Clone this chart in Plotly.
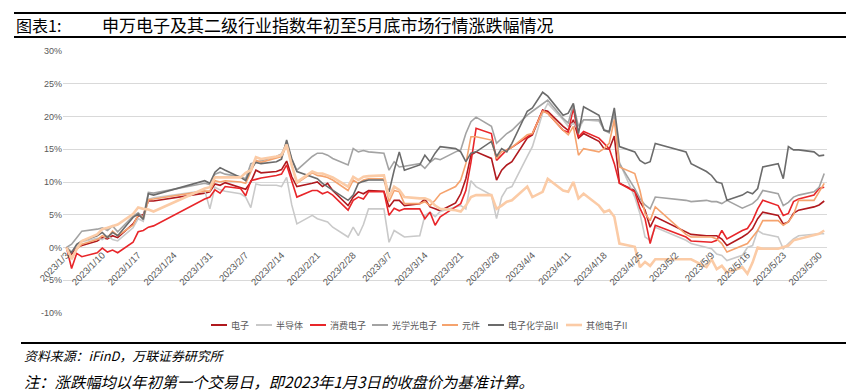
import plotly.graph_objects as go

# ---------------- data ----------------
dates = [
    # Jan
    "2023-01-03","2023-01-04","2023-01-05","2023-01-06","2023-01-09","2023-01-10","2023-01-11","2023-01-12",
    "2023-01-13","2023-01-16","2023-01-17","2023-01-18","2023-01-19","2023-01-20","2023-01-30","2023-01-31",
    # Feb
    "2023-02-01","2023-02-02","2023-02-03","2023-02-06","2023-02-07","2023-02-08","2023-02-09","2023-02-10",
    "2023-02-13","2023-02-14","2023-02-15","2023-02-16","2023-02-17","2023-02-20","2023-02-21","2023-02-22",
    "2023-02-23","2023-02-24","2023-02-27","2023-02-28",
    # Mar
    "2023-03-01","2023-03-02","2023-03-03","2023-03-06","2023-03-07","2023-03-08","2023-03-09","2023-03-10",
    "2023-03-13","2023-03-14","2023-03-15","2023-03-16","2023-03-17","2023-03-20","2023-03-21","2023-03-22",
    "2023-03-23","2023-03-24","2023-03-27","2023-03-28","2023-03-29","2023-03-30","2023-03-31",
    # Apr
    "2023-04-03","2023-04-04","2023-04-06","2023-04-07","2023-04-10","2023-04-11","2023-04-12","2023-04-13",
    "2023-04-14","2023-04-17","2023-04-18","2023-04-19","2023-04-20","2023-04-21","2023-04-24","2023-04-25",
    "2023-04-26","2023-04-27","2023-04-28",
    # May
    "2023-05-04","2023-05-05","2023-05-08","2023-05-09","2023-05-10","2023-05-11","2023-05-12","2023-05-15",
    "2023-05-16","2023-05-17","2023-05-18","2023-05-19","2023-05-22","2023-05-23","2023-05-24","2023-05-25",
    "2023-05-26","2023-05-29","2023-05-30","2023-05-31",
]

dianzi = [  # 电子
    0, -1.0, 0.0, 0.3, 1.0, 1.5, 1.3, 1.8, 1.5, 3.6, 4.8, 5.0, 7.1, 7.1, 8.3, 8.5,
    9.7, 9.5, 9.9, 9.2, 8.9, 10.0, 11.8, 11.4, 11.6, 11.9, 13.2, 10.8, 9.3, 9.8, 10.0, 9.3, 9.8, 8.7, 6.4, 7.7,
    8.5, 8.2, 8.7, 8.6, 6.2, 7.2, 7.2, 6.4, 6.7, 7.4, 6.2, 5.9, 5.6, 6.8, 8.2, 10.5, 14.1, 14.6, 13.6, 10.3, 11.8, 12.6, 13.1,
    16.7, 17.2, 21.0, 20.8, 18.5, 17.9, 19.5, 16.7, 17.4, 16.2, 15.1, 15.0, 17.0, 9.8, 8.7, 7.0, 5.7, 3.1, 4.7,
    2.3, 2.0, 1.8, 1.8, 1.8, 1.3, 0.3, 1.6, 2.1, 2.9, 4.4, 5.4, 4.9, 3.6, 3.9, 5.2, 5.7, 6.2, 6.5, 7.1,
]
bandaoti = [  # 半导体
    0, -0.6, 0.3, 0.9, 1.4, 1.2, 1.8, 1.2, 1.0, 3.0, 4.4, 4.0, 7.4, 7.6, 8.7, 5.9,
    9.2, 8.8, 8.6, 8.2, 7.7, 6.1, 9.7, 9.5, 9.5, 9.3, 10.7, 6.5, 3.6, 4.9, 4.4, 4.2, 3.9, 3.1, 1.6, 3.1,
    1.8, 3.5, 5.9, 5.9, 0.8, 2.6, 2.1, 1.6, 1.8, 4.9, 5.4, 4.7, 5.5, 6.2, 6.4, 5.9, 10.2, 9.3, 8.0, 4.4, 7.7, 9.0, 9.3,
    13.9, 15.4, 20.5, 22.0, 19.5, 18.5, 19.0, 17.9, 19.5, 19.3, 18.0, 17.7, 20.5, 13.0, 7.7, 5.2, 1.6, 1.1, 3.1,
    1.1, 0.6, 0.0, -0.2, -1.0, -1.2, -2.0, -1.2, 0.0, 0.3, 2.6, 2.1, 1.6, -0.2, 0.6, 1.3, 1.8, 2.1, 2.1, 2.1,
]
xiaofei = [  # 消费电子
    0, -3.2, -0.9, -1.4, -0.8, -0.1, -0.7, -0.4, -0.8, 0.8, 2.4, 2.6, 3.1, 3.3, 7.4, 7.7,
    8.8, 8.3, 9.3, 9.0, 7.9, 10.2, 10.4, 10.6, 11.0, 11.2, 12.6, 10.0, 7.7, 8.7, 8.7, 8.2, 8.5, 8.0, 5.7, 7.2,
    7.7, 7.4, 8.5, 8.5, 4.9, 6.0, 5.6, 5.9, 5.9, 4.4, 5.4, 3.4, 4.7, 6.2, 6.7, 8.7, 13.0, 18.2, 17.4, 13.3, 14.1, 14.9, 15.3,
    16.9, 17.4, 20.9, 20.5, 17.9, 17.6, 21.3, 16.9, 17.7, 16.7, 15.9, 15.1, 12.8, 9.8, 8.5, 6.0, 4.4, 0.6, 3.4,
    1.6, 1.0, 0.8, 0.8, 1.1, 2.6, 1.3, 2.6, 2.9, 4.1, 5.9, 7.2, 6.4, 4.9, 5.2, 7.0, 7.4, 8.0, 9.0, 9.2,
]
guangxue = [  # 光学光电子
    0, 0.5, 1.5, 2.5, 2.8, 3.0, 2.6, 3.3, 2.4, 4.8, 5.3, 4.6, 8.4, 8.3, 9.8, 9.6,
    11.2, 11.5, 11.2, 10.8, 10.5, 12.8, 13.0, 13.2, 13.9, 14.3, 15.9, 13.5, 11.8, 13.9, 14.4, 14.4, 14.1, 13.6, 12.6, 15.1,
    14.6, 14.8, 14.6, 14.4, 11.8, 13.1, 12.3, 12.4, 12.8, 12.1, 13.0, 13.6, 13.4, 14.6, 14.9, 17.4, 19.2, 19.9, 18.5, 15.9, 16.7, 17.4, 17.9,
    20.2, 20.8, 22.0, 22.5, 19.7, 19.0, 21.8, 18.5, 19.5, 19.5, 17.9, 17.5, 20.5, 12.8, 9.0, 7.5, 6.5, 5.9, 7.7,
    7.2, 7.0, 7.2, 7.0, 7.0, 6.7, 7.2, 6.0, 6.4, 6.7, 7.4, 8.7, 8.2, 6.4, 6.9, 7.7, 8.0, 8.5, 9.2, 11.3,
]
yuanjian = [  # 元件
    0, -1.5, -0.3, 0.5, 1.2, 1.8, 1.5, 2.5, 1.8, 3.4, 5.0, 4.5, 7.3, 7.4, 8.6, 8.6,
    10.2, 10.0, 10.2, 10.0, 9.8, 11.5, 13.3, 13.0, 13.6, 13.9, 15.6, 12.5, 9.8, 11.4, 11.0, 10.9, 10.7, 10.3, 8.7, 10.3,
    9.8, 10.3, 10.5, 10.5, 7.0, 8.7, 8.5, 6.7, 6.7, 7.0, 6.4, 7.2, 8.2, 9.3, 10.3, 12.8, 16.9, 16.9, 16.4, 13.6, 14.6, 14.9, 15.3,
    17.2, 17.4, 20.8, 20.5, 17.9, 17.2, 18.5, 14.1, 15.1, 14.6, 15.1, 15.9, 19.5, 12.3, 11.3, 8.7, 5.2, 4.1, 6.2,
    2.0, 1.6, 1.6, 1.6, 1.3, 0.6, -0.7, 0.3, 0.6, 1.6, 2.6, 4.1, 4.1, 3.4, 3.9, 5.0, 7.2, 7.2, 8.5, 9.8,
]
huaxue = [  # 电子化学品II
    0, -0.8, 0.5, 1.0, 1.8, 2.3, 1.5, 2.3, 1.8, 4.6, 5.1, 4.3, 8.2, 8.0, 10.2, 9.8,
    11.5, 12.2, 11.8, 10.7, 10.2, 12.0, 13.0, 12.8, 13.1, 13.5, 16.4, 13.5, 11.6, 10.8, 10.5, 9.8, 9.3, 8.7, 7.2, 8.0,
    9.8, 10.1, 10.3, 10.3, 8.5, 11.8, 14.6, 11.8, 12.6, 14.1, 13.1, 14.4, 15.4, 15.1, 14.6, 13.1, 14.4, 14.6, 16.2, 13.9, 15.1, 14.6, 15.9,
    20.8, 21.3, 23.7, 23.1, 20.2, 20.5, 22.0, 17.4, 21.5, 20.2, 17.9, 17.7, 21.3, 15.4, 14.6, 13.3, 12.8, 13.1, 15.9,
    14.6, 12.8, 11.6, 11.0, 10.0, 9.8, 7.2, 8.0, 8.5, 8.2, 9.0, 12.3, 12.8, 10.5, 15.4, 14.9, 14.9, 14.6, 14.0, 14.1,
]
qita = [  # 其他电子II
    0, -1.8, -0.2, 1.0, 2.0, 2.8, 3.0, 3.3, 3.5, 5.1, 6.1, 5.9, 5.8, 5.5, 9.0, 9.2,
    10.7, 10.7, 10.7, 10.7, 11.4, 11.8, 13.8, 13.5, 13.9, 14.1, 15.7, 12.5, 10.0, 11.6, 11.3, 11.3, 11.0, 10.7, 9.3, 10.8,
    10.3, 10.8, 10.9, 11.0, 7.7, 9.3, 8.8, 7.7, 7.5, 7.5, 7.2, 6.4, 5.9, 5.7, 5.5, 6.4, 7.7, 8.0, 8.0, 5.9, 6.4, 7.0, 7.2,
    9.3, 7.7, 8.5, 10.5, 8.7, 8.5, 10.0, 7.5, 8.2, 6.4, 5.4, 5.7, 4.7, 0.6, 0.1, -3.0, -2.2, -2.8, -1.8,
    -1.8, -1.8, -3.0, -1.8, -3.3, -2.8, -3.8, -3.0, -4.0, -2.3, 0.0, -0.2, -0.2, 0.0, 0.3, 1.1, 1.3, 1.8, 2.1, 2.6,
]

series_names = ["电子", "半导体", "消费电子", "光学光电子", "元件", "电子化学品II", "其他电子II"]
series_values = [dianzi, bandaoti, xiaofei, guangxue, yuanjian, huaxue, qita]
series_colors = ["#B0191E", "#C9C9C9", "#E8262A", "#A3A3A3", "#F5A36E", "#6B6B6B", "#FBCBA6"]
series_widths = [1.6, 1.6, 1.6, 1.6, 1.6, 1.6, 2.6]

tick_dates = ["2023-01-03","2023-01-10","2023-01-17","2023-01-24","2023-01-31","2023-02-07","2023-02-14",
              "2023-02-21","2023-02-28","2023-03-07","2023-03-14","2023-03-21","2023-03-28","2023-04-04",
              "2023-04-11","2023-04-18","2023-04-25","2023-05-02","2023-05-09","2023-05-16","2023-05-23","2023-05-30"]
tick_labels = ["2023/1/3","2023/1/10","2023/1/17","2023/1/24","2023/1/31","2023/2/7","2023/2/14",
               "2023/2/21","2023/2/28","2023/3/7","2023/3/14","2023/3/21","2023/3/28","2023/4/4",
               "2023/4/11","2023/4/18","2023/4/25","2023/5/2","2023/5/9","2023/5/16","2023/5/23","2023/5/30"]
y_ticks = [-10, -5, 0, 5, 10, 15, 20, 25, 30]
y_tick_labels = ["-10%", "-5%", "0%", "5%", "10%", "15%", "20%", "25%", "30%"]

title_label = "图表1:"
title_text = "申万电子及其二级行业指数年初至5月底市场行情涨跌幅情况"
source_text = "资料来源：iFinD，万联证券研究所"
note_text = "注：涨跌幅均以年初第一个交易日，即2023年1月3日的收盘价为基准计算。"

# ---------------- layout helpers (page pixel -> paper) ----------------
OFF = 8                      # page body margin of the html page
PW, PH = 854, 392            # browser window
L, R, T, B = 63, 827, 51, 313  # plot area in page pixels
def px(x):
    return (x - L) / (R - L)
def py(y):
    return (B - y) / (B - T)

CJK = "Noto Sans CJK SC"
LAT = "Liberation Sans, Arial, sans-serif"

fig = go.Figure()
for name, vals, col, wd in zip(series_names, series_values, series_colors, series_widths):
    fig.add_trace(go.Scatter(x=dates, y=vals, mode="lines", name=name,
                             line=dict(color=col, width=wd), showlegend=False))

shapes = []
annotations = []

# header / footer rules
for yy, x0 in [(13, 14), (37, 14), (343, 21)]:
    shapes.append(dict(type="line", xref="paper", yref="paper", x0=px(x0), x1=px(854),
                       y0=py(yy), y1=py(yy), line=dict(color="black", width=2.2)))

annotations.append(dict(text=title_label, xref="paper", yref="paper", x=px(14), y=py(25),
                        xanchor="left", yanchor="middle", showarrow=False,
                        font=dict(family=CJK, size=16, color="black")))
annotations.append(dict(text=title_text, xref="paper", yref="paper", x=px(100), y=py(25),
                        xanchor="left", yanchor="middle", showarrow=False,
                        font=dict(family=CJK, size=17, color="black")))
annotations.append(dict(text=source_text, xref="paper", yref="paper", x=px(22), y=py(355),
                        xanchor="left", yanchor="middle", showarrow=False,
                        font=dict(family=CJK, size=12.9, color="black", style="italic")))
annotations.append(dict(text=note_text, xref="paper", yref="paper", x=px(22), y=py(381),
                        xanchor="left", yanchor="middle", showarrow=False,
                        font=dict(family=CJK, size=15.3, color="black", style="italic")))

# custom legend
legend_line_x = [211, 256, 310, 372, 442, 488, 566]
legend_y = 325
for name, col, wd, lx in zip(series_names, series_colors, series_widths, legend_line_x):
    shapes.append(dict(type="line", xref="paper", yref="paper", x0=px(lx), x1=px(lx + 16),
                       y0=py(legend_y), y1=py(legend_y), line=dict(color=col, width=2 if wd < 2 else 2.6)))
    annotations.append(dict(text=name, xref="paper", yref="paper", x=px(lx + 18), y=py(legend_y),
                            xanchor="left", yanchor="middle", showarrow=False,
                            font=dict(family=CJK, size=9, color="#595959")))

fig.update_layout(
    width=PW - OFF, height=PH - OFF,
    margin=dict(l=L - OFF, r=PW - R, t=T - OFF, b=PH - B, pad=0),
    paper_bgcolor="white", plot_bgcolor="white",
    showlegend=False,
    shapes=shapes, annotations=annotations,
    xaxis=dict(type="date", range=["2023-01-02 07:40", "2023-05-31 13:00"],
               tickmode="array", tickvals=tick_dates, ticktext=tick_labels,
               tickangle=-45, tickfont=dict(family=LAT, size=9.5, color="#595959"),
               showgrid=False, zeroline=False, showline=False, ticks="",
               anchor="free", position=py(247)),
    yaxis=dict(range=[-10, 30], tickmode="array", tickvals=y_ticks, ticktext=y_tick_labels,
               tickfont=dict(family=LAT, size=9, color="#595959"),
               showgrid=True, gridcolor="#D9D9D9", gridwidth=1,
               zeroline=False, showline=False, ticks=""),
)

fig.write_html("out.html")
